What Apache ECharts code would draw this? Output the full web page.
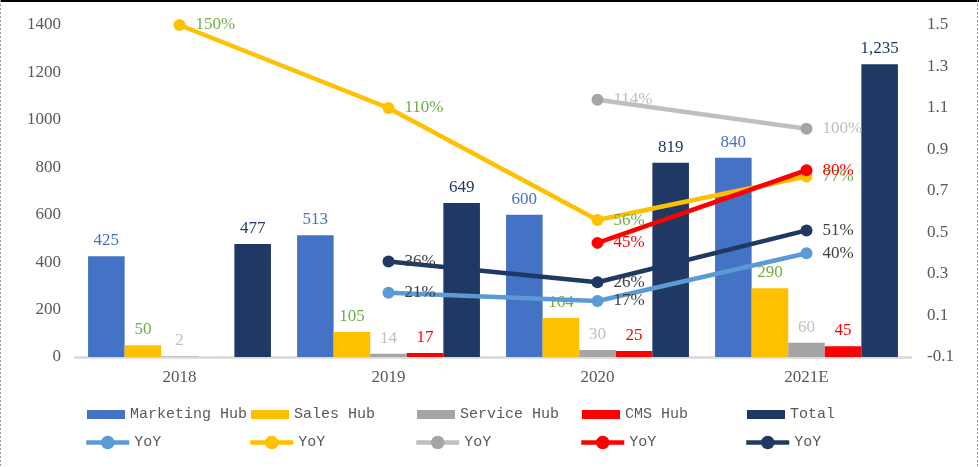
<!DOCTYPE html>
<html>
<head>
<meta charset="utf-8">
<script src="https://cdn.jsdelivr.net/npm/echarts@6/dist/echarts.min.js"></script>
<style>
html,body{margin:0;padding:0;background:#fff;}
#c{width:979px;height:467px;}
</style>
</head>
<body>
<div id="c"></div>
<script>
// ---- data ----
var categories = ['2018', '2019', '2020', '2021E'];
var marketingHub = [425, 513, 600, 840];
var salesHub = [50, 105, 164, 290];
var serviceHub = [2, 14, 30, 60];
var cmsHub = [null, 17, 25, 45];
var total = [477, 649, 819, 1235];
var marketingYoY = [null, 0.21, 0.17, 0.40];
var salesYoY = [1.50, 1.10, 0.56, 0.77];
var serviceYoY = [null, null, 1.14, 1.00];
var cmsYoY = [null, null, 0.45, 0.80];
var totalYoY = [null, 0.36, 0.26, 0.51];
var barNames = ['Marketing Hub', 'Sales Hub', 'Service Hub', 'CMS Hub', 'Total'];
var lineNames = ['Marketing YoY', 'Sales YoY', 'Service YoY', 'CMS YoY', 'Total YoY'];

var serif = '"Liberation Serif", "DejaVu Serif", serif';
var mono = '"Liberation Mono", "DejaVu Sans Mono", monospace';

function barSeries(name, data, color, labelColor, fmt) {
  return {
    name: name, type: 'bar', data: data, yAxisIndex: 0,
    barGap: '0%', barCategoryGap: '12.5%',
    itemStyle: { color: color },
    label: {
      show: true, position: 'top', distance: 7,
      color: labelColor, fontFamily: serif, fontSize: 17,
      formatter: fmt || function (p) { return p.value; }
    },
    z: 2
  };
}
function lineSeries(name, data, lineColor, markerColor, labelColor) {
  return {
    name: name, type: 'line', data: data, yAxisIndex: 1,
    symbol: 'circle', symbolSize: 12,
    lineStyle: { color: lineColor, width: 4.5 },
    itemStyle: { color: markerColor },
    label: {
      show: true, position: 'right', distance: 10,
      color: labelColor, fontFamily: serif, fontSize: 17,
      formatter: function (p) { return Math.round(p.value * 100) + '%'; }
    },
    z: 5
  };
}

var legendLefts = [87, 251, 417, 582, 747];
var legends = [];
barNames.forEach(function (n, i) {
  legends.push({
    data: [n], left: legendLefts[i], top: 407, padding: 0,
    icon: 'rect', itemWidth: 38, itemHeight: 9, itemGap: 0,
    textStyle: { color: '#595959', fontFamily: mono, fontSize: 15 }
  });
});
lineNames.forEach(function (n, i) {
  legends.push({
    data: [n], left: legendLefts[i] - 3, top: 435, padding: 0,
    itemWidth: 43, itemHeight: 17, itemGap: 0,
    lineStyle: { width: 4.5 },
    formatter: function () { return 'YoY'; },
    textStyle: { color: '#595959', fontFamily: mono, fontSize: 15 }
  });
});

var chart = echarts.init(document.getElementById('c'));
chart.setOption({
  animation: false,
  backgroundColor: '#fff',
  grid: { left: 75, right: 68, top: 25, bottom: 110 },
  legend: legends,
  graphic: [
    { type: 'line', shape: { x1: 0, y1: 1, x2: 979, y2: 1 }, style: { stroke: '#000', lineWidth: 2 }, silent: true },
    { type: 'line', shape: { x1: 0.5, y1: 0, x2: 0.5, y2: 467 }, style: { stroke: '#999', lineWidth: 1, lineDash: [2, 2] }, silent: true },
    { type: 'line', shape: { x1: 977.5, y1: 0, x2: 977.5, y2: 467 }, style: { stroke: '#999', lineWidth: 1, lineDash: [2, 2] }, silent: true }
  ],
  xAxis: {
    type: 'category', data: categories,
    axisLine: { lineStyle: { color: '#D9D9D9', width: 2.5 } },
    axisTick: { show: false },
    axisLabel: { color: '#595959', fontFamily: serif, fontSize: 17, margin: 12 }
  },
  yAxis: [
    {
      type: 'value', min: 0, max: 1400, interval: 200,
      splitLine: { show: false }, axisLine: { show: false }, axisTick: { show: false },
      axisLabel: {
        color: '#595959', fontFamily: serif, fontSize: 17, margin: 14,
        formatter: function (v) { return String(v); }
      }
    },
    {
      type: 'value', min: -0.1, max: 1.5, interval: 0.2,
      splitLine: { show: false }, axisLine: { show: false }, axisTick: { show: false },
      axisLabel: {
        color: '#595959', fontFamily: serif, fontSize: 17, margin: 16,
        formatter: function (v) { return v.toFixed(1); }
      }
    }
  ],
  series: [
    barSeries('Marketing Hub', marketingHub, '#4472C4', '#4472C4'),
    barSeries('Sales Hub', salesHub, '#FFC000', '#70AD47'),
    barSeries('Service Hub', serviceHub, '#A5A5A5', '#BFBFBF'),
    barSeries('CMS Hub', cmsHub, '#FF0000', '#FF0000'),
    barSeries('Total', total, '#203864', '#203864', function (p) { return p.value.toLocaleString('en-US'); }),
    lineSeries('Marketing YoY', marketingYoY, '#5B9BD5', '#5B9BD5', '#404040'),
    lineSeries('Sales YoY', salesYoY, '#FFC000', '#FFC000', '#70AD47'),
    lineSeries('Service YoY', serviceYoY, '#BFBFBF', '#A5A5A5', '#BFBFBF'),
    lineSeries('CMS YoY', cmsYoY, '#FF0000', '#FF0000', '#FF0000'),
    lineSeries('Total YoY', totalYoY, '#203864', '#203864', '#404040')
  ]
});
</script>
</body>
</html>
